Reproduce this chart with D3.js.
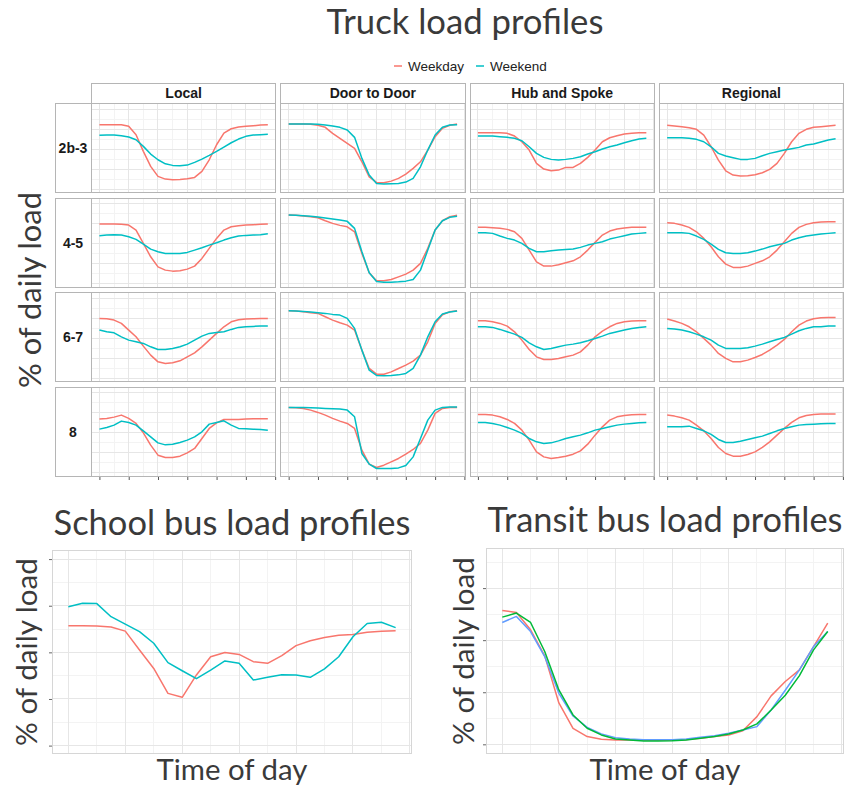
<!DOCTYPE html>
<html>
<head>
<meta charset="utf-8">
<script src="https://cdn.jsdelivr.net/npm/d3@7/dist/d3.min.js"></script>
<style>
  body { margin: 0; background: #fff; }
</style>
</head>
<body>
<svg id="chart" width="845" height="787"></svg>
<script>
// ---- data ----
const hours = [0,1,2,3,4,5,6,7,8,9,10,11,12,13,14,15,16,17,18,19,20,21,22,23];
const hourTicks = [0,4,8,12,16,20,24];
const hourMinor = [2,6,10,14,18,22];
const truckUses = ['Local', 'Door to Door', 'Hub and Spoke', 'Regional'];
const truckSizes = ['2b-3', '4-5', '6-7', '8'];
const dayTypes = ['Weekday', 'Weekend'];

// % of daily load per hour, one array per use (Local, Door to Door, Hub and Spoke, Regional)
const weekday2b3 = [
  [6.43,6.43,6.43,6.43,6.27,5.43,3.77,2.27,1.27,1.00,0.93,0.97,1.03,1.17,1.77,2.93,4.43,5.60,6.03,6.20,6.27,6.33,6.40,6.43],
  [6.50,6.50,6.50,6.47,6.37,6.17,5.57,5.07,4.57,4.07,2.73,1.23,0.67,0.63,0.80,1.07,1.50,2.07,2.73,3.90,5.23,6.07,6.37,6.50],
  [5.63,5.63,5.63,5.63,5.57,5.30,4.73,3.90,2.57,2.00,1.83,1.90,2.17,2.17,2.57,3.17,3.90,4.73,5.13,5.33,5.50,5.57,5.63,5.63],
  [6.37,6.30,6.23,6.13,5.97,5.40,4.23,2.90,1.83,1.40,1.30,1.33,1.43,1.63,1.97,2.57,3.57,4.73,5.57,5.97,6.17,6.23,6.30,6.37]
];
const weekend2b3 = [
  [5.37,5.40,5.40,5.33,5.20,4.93,4.27,3.50,2.93,2.53,2.37,2.33,2.40,2.67,3.00,3.37,3.77,4.20,4.63,5.00,5.27,5.40,5.43,5.47],
  [6.50,6.50,6.50,6.50,6.47,6.40,6.30,6.17,5.90,5.17,3.07,1.40,0.57,0.50,0.53,0.57,0.70,1.07,2.23,3.90,5.40,6.17,6.40,6.43],
  [5.30,5.30,5.30,5.23,5.17,5.07,4.83,4.23,3.57,3.17,2.97,2.90,2.97,3.07,3.23,3.50,3.73,4.00,4.23,4.40,4.63,4.83,5.00,5.07],
  [5.13,5.13,5.13,5.07,4.97,4.73,4.23,3.57,3.30,3.13,2.97,2.97,3.07,3.33,3.57,3.73,3.90,4.03,4.17,4.40,4.50,4.70,4.90,5.03]
];
const weekday45 = [
  [5.96,5.96,5.96,5.93,5.86,5.36,4.03,2.69,1.69,1.36,1.26,1.29,1.46,1.76,2.53,3.53,4.53,5.36,5.69,5.79,5.86,5.89,5.93,5.96],
  [6.86,6.83,6.76,6.69,6.59,6.29,6.03,5.83,5.69,5.19,3.03,1.09,0.29,0.29,0.43,0.69,0.96,1.36,2.03,3.53,5.36,6.29,6.69,6.83],
  [5.63,5.63,5.59,5.53,5.43,5.19,4.53,3.36,2.19,1.76,1.76,1.89,2.09,2.29,2.69,3.36,4.13,4.86,5.26,5.46,5.56,5.63,5.63,5.63],
  [6.09,6.03,5.86,5.63,5.19,4.53,3.69,2.69,1.96,1.63,1.63,1.76,2.03,2.29,2.69,3.36,4.19,5.03,5.63,5.93,6.09,6.16,6.19,6.19]
];
const weekend45 = [
  [4.79,4.86,4.89,4.86,4.69,4.43,3.96,3.46,3.19,3.03,3.03,3.03,3.13,3.36,3.59,3.86,4.09,4.36,4.59,4.76,4.83,4.86,4.89,4.99],
  [6.86,6.83,6.79,6.73,6.66,6.56,6.46,6.36,6.23,5.53,3.19,1.09,0.23,0.16,0.16,0.19,0.26,0.43,1.36,3.36,5.36,6.29,6.63,6.73],
  [5.09,5.09,5.03,4.76,4.53,4.36,4.03,3.53,3.19,3.19,3.29,3.36,3.43,3.46,3.63,3.86,4.03,4.19,4.46,4.63,4.79,4.96,5.03,5.09],
  [5.09,5.09,5.09,5.03,4.76,4.43,3.96,3.43,3.09,3.03,3.03,3.09,3.26,3.46,3.69,3.86,4.03,4.36,4.59,4.76,4.86,4.96,5.03,5.09]
];
const weekday67 = [
  [5.99,5.95,5.82,5.49,4.82,4.15,3.22,2.32,1.65,1.49,1.55,1.75,2.15,2.55,3.15,3.82,4.49,5.15,5.65,5.85,5.92,5.95,5.99,5.99],
  [6.75,6.72,6.65,6.55,6.49,6.15,5.82,5.55,5.32,4.82,2.82,0.99,0.42,0.42,0.65,0.99,1.32,1.72,2.32,3.65,5.49,6.35,6.65,6.75],
  [5.75,5.75,5.65,5.49,5.22,4.65,3.82,2.89,2.15,1.89,1.89,1.99,2.15,2.32,2.65,3.32,4.15,4.72,5.15,5.49,5.65,5.72,5.75,5.75],
  [5.92,5.72,5.49,5.15,4.65,3.99,3.32,2.49,1.99,1.65,1.65,1.82,2.09,2.39,2.82,3.32,3.89,4.65,5.32,5.72,5.95,6.05,6.09,6.09]
];
const weekend67 = [
  [4.82,4.65,4.55,4.15,3.82,3.65,3.49,3.15,2.89,2.89,2.99,3.15,3.42,3.82,4.22,4.49,4.59,4.65,4.89,5.09,5.15,5.19,5.22,5.22],
  [6.75,6.72,6.69,6.62,6.55,6.49,6.39,6.32,5.99,4.99,2.82,0.82,0.29,0.25,0.29,0.35,0.49,0.99,2.32,4.15,5.65,6.42,6.62,6.72],
  [5.15,5.15,5.09,4.89,4.65,4.42,4.09,3.55,3.15,2.89,2.99,3.15,3.32,3.42,3.55,3.75,3.99,4.22,4.49,4.65,4.82,4.99,5.09,5.15],
  [4.99,4.92,4.82,4.65,4.42,4.15,3.82,3.32,2.99,2.99,2.99,3.05,3.22,3.42,3.65,3.89,4.09,4.42,4.75,4.99,5.15,5.15,5.22,5.22]
];
const weekday8 = [
  [5.38,5.45,5.58,5.78,5.45,4.95,4.01,2.78,1.78,1.55,1.55,1.68,2.01,2.45,3.45,4.45,5.01,5.35,5.35,5.35,5.38,5.41,5.41,5.41],
  [6.55,6.51,6.45,6.28,6.05,5.78,5.45,5.18,4.95,4.45,2.28,0.88,0.55,0.78,1.11,1.45,1.88,2.35,2.95,4.28,5.95,6.45,6.55,6.55],
  [5.85,5.85,5.78,5.61,5.35,4.95,4.28,3.28,2.11,1.61,1.45,1.55,1.68,1.88,2.21,2.88,3.78,4.61,5.28,5.61,5.75,5.81,5.85,5.85],
  [5.78,5.68,5.51,5.28,4.78,4.21,3.45,2.55,1.95,1.68,1.68,1.85,2.11,2.55,3.11,3.78,4.45,5.05,5.51,5.75,5.85,5.88,5.88,5.88]
];
const weekend8 = [
  [4.38,4.55,4.78,5.18,5.05,4.78,4.21,3.61,3.01,2.81,2.88,3.05,3.28,3.61,4.11,4.88,5.05,5.21,4.78,4.45,4.41,4.38,4.35,4.28],
  [6.55,6.55,6.55,6.51,6.48,6.45,6.41,6.38,6.28,5.61,1.95,0.88,0.45,0.45,0.45,0.51,0.75,1.61,3.45,5.28,6.28,6.55,6.58,6.58],
  [5.05,5.05,4.95,4.78,4.55,4.28,3.95,3.45,3.11,2.95,3.01,3.21,3.45,3.61,3.78,4.01,4.28,4.45,4.61,4.78,4.88,4.95,5.01,5.05],
  [4.61,4.61,4.61,4.68,4.45,4.21,3.85,3.35,3.05,3.05,3.18,3.35,3.51,3.68,3.95,4.21,4.45,4.61,4.78,4.85,4.88,4.91,4.95,4.95]
];
const truckWeekday = [weekday2b3, weekday45, weekday67, weekday8];
const truckWeekend = [weekend2b3, weekend45, weekend67, weekend8];
const truckTicks = [0,2,4,6,8];
const truckMinor = [1,3,5,7];

const schoolWeekday = [5.14,5.14,5.13,5.09,4.91,4.10,3.31,2.24,2.07,3.03,3.81,3.99,3.91,3.60,3.53,3.86,4.29,4.50,4.64,4.73,4.77,4.86,4.91,4.93];
const schoolWeekend = [5.96,6.11,6.09,5.53,5.21,4.89,4.39,3.56,3.21,2.87,3.24,3.63,3.53,2.81,2.93,3.04,3.03,2.93,3.29,3.81,4.67,5.24,5.29,5.06];
const schoolTicks = [0,2,4,6,8];
const schoolMinor = [1,3,5,7];

const transitA = [12.85,12.66,11.00,8.49,3.97,1.54,0.74,0.48,0.42,0.42,0.38,0.38,0.38,0.45,0.58,0.74,0.90,1.31,2.66,4.65,6.03,7.15,9.39,11.63];
const transitB = [12.21,12.60,11.70,8.91,5.22,2.82,1.54,0.90,0.51,0.42,0.32,0.32,0.35,0.42,0.58,0.74,0.99,1.38,1.96,3.30,4.71,6.60,9.07,10.83];
const transitC = [11.70,12.28,10.83,8.43,4.90,2.72,1.63,1.00,0.64,0.51,0.45,0.45,0.45,0.51,0.67,0.83,1.06,1.38,1.70,3.30,5.19,7.15,9.39,10.83];
const transitTicks = [0,5,10,15];
const transitMinor = [2.5,7.5,12.5,17.5];

// ---- styling ----
const COLORS = {
  weekday: '#F8766D',
  weekend: '#00BFC4',
  transit: ['#F8766D', '#619CFF', '#00BA38'],
  border: '#b5b5b5',
  gridMajor: '#e6e6e6',
  gridMinor: '#f3f3f3',
  text: '#3a3a3a',
  strip: '#1a1a1a'
};
const TITLE_FONT = 'Lato, "Open Sans", sans-serif';
const STRIP_FONT = '"Liberation Sans", Arial, sans-serif';
const X_DOMAIN = [-1.15, 24.15];

const svg = d3.select('#chart');
svg.append('rect').attr('width', 845).attr('height', 787).attr('fill', '#fff');

// scale a text element's font so that it spans the wanted width
function fitWidth(sel, target) {
  const w = sel.node().getComputedTextLength();
  const fs = parseFloat(sel.attr('font-size'));
  sel.attr('font-size', (fs * target / w).toFixed(2));
  return sel;
}

function drawPanelFrame(g, w, h, xScale, yScale, yMajor, yMinor, borderColor) {
  g.append('rect').attr('width', w).attr('height', h).attr('fill', '#fff');
  const grid = g.append('g').attr('shape-rendering', 'crispEdges');
  grid.selectAll('line.vminor').data(hourMinor).join('line')
    .attr('x1', d => xScale(d)).attr('x2', d => xScale(d))
    .attr('y1', 0).attr('y2', h)
    .attr('stroke', COLORS.gridMinor);
  grid.selectAll('line.hminor').data(yMinor).join('line')
    .attr('x1', 0).attr('x2', w)
    .attr('y1', d => yScale(d)).attr('y2', d => yScale(d))
    .attr('stroke', COLORS.gridMinor);
  grid.selectAll('line.vmajor').data(hourTicks.filter(d => xScale(d) < w)).join('line')
    .attr('x1', d => xScale(d)).attr('x2', d => xScale(d))
    .attr('y1', 0).attr('y2', h)
    .attr('stroke', COLORS.gridMajor);
  grid.selectAll('line.hmajor').data(yMajor).join('line')
    .attr('x1', 0).attr('x2', w)
    .attr('y1', d => yScale(d)).attr('y2', d => yScale(d))
    .attr('stroke', COLORS.gridMajor);
  // border is drawn last, over the lines
  return () => g.append('rect')
    .attr('x', 0.5).attr('y', 0.5)
    .attr('width', w - 1).attr('height', h - 1)
    .attr('fill', 'none')
    .attr('stroke', borderColor)
    .attr('stroke-width', 1)
    .attr('shape-rendering', 'crispEdges');
}

function drawSeries(g, values, xScale, yScale, color, width) {
  const line = d3.line()
    .x((d, i) => xScale(hours[i]))
    .y(d => yScale(d));
  g.append('path')
    .datum(values)
    .attr('d', line)
    .attr('fill', 'none')
    .attr('stroke', color)
    .attr('stroke-width', width)
    .attr('stroke-linejoin', 'round');
}

// ---- truck facet grid ----
const grid = { left: 91, right: 844, top: 103, bottom: 477, colGap: 4, rowGap: 4.5 };
const colW = (grid.right - grid.left - grid.colGap * 3) / 4;
const rowH = (grid.bottom - grid.top - grid.rowGap * 3) / 4;
const truckX = d3.scaleLinear().domain(X_DOMAIN).range([0, colW]);
const truckY = d3.scaleLinear().domain([-0.4, 8.6]).range([rowH, 0]);

svg.append('text')
  .attr('x', 465).attr('y', 34)
  .attr('text-anchor', 'middle')
  .attr('font-family', TITLE_FONT)
  .attr('font-size', 28)
  .attr('fill', COLORS.text)
  .text('Truck load profiles')
  .call(sel => fitWidth(sel, 277));

// legend
const legend = svg.append('g').attr('transform', 'translate(394, 66)');
const legendItems = [
  { label: dayTypes[0], color: COLORS.weekday, x: 0 },
  { label: dayTypes[1], color: COLORS.weekend, x: 82 }
];
legendItems.forEach(item => {
  legend.append('line')
    .attr('x1', item.x).attr('x2', item.x + 8)
    .attr('y1', 0).attr('y2', 0)
    .attr('stroke', item.color).attr('stroke-width', 1.5);
  legend.append('text')
    .attr('x', item.x + 14).attr('y', 0).attr('dy', '0.35em')
    .attr('font-family', STRIP_FONT)
    .attr('font-size', 13.5)
    .attr('fill', '#222')
    .text(item.label);
});

// column strips
truckUses.forEach((use, c) => {
  const x = grid.left + c * (colW + grid.colGap);
  const strip = svg.append('g').attr('transform', `translate(${x}, 83)`);
  strip.append('rect')
    .attr('x', 0.5).attr('y', 0.5).attr('width', colW - 1).attr('height', 19.5)
    .attr('fill', '#fff').attr('stroke', COLORS.border)
    .attr('shape-rendering', 'crispEdges');
  strip.append('text')
    .attr('x', colW / 2).attr('y', 10.5).attr('dy', '0.35em')
    .attr('text-anchor', 'middle')
    .attr('font-family', STRIP_FONT).attr('font-weight', 'bold')
    .attr('font-size', 14).attr('fill', COLORS.strip)
    .text(use);
});

// row strips + panels
truckSizes.forEach((size, r) => {
  const y = grid.top + r * (rowH + grid.rowGap);
  const strip = svg.append('g').attr('transform', `translate(55, ${y})`);
  strip.append('rect')
    .attr('x', 0.5).attr('y', 0.5).attr('width', 36).attr('height', rowH - 1)
    .attr('fill', '#fff').attr('stroke', COLORS.border)
    .attr('shape-rendering', 'crispEdges');
  strip.append('text')
    .attr('x', 18).attr('y', rowH / 2).attr('dy', '0.35em')
    .attr('text-anchor', 'middle')
    .attr('font-family', STRIP_FONT).attr('font-weight', 'bold')
    .attr('font-size', 14).attr('fill', COLORS.strip)
    .text(size);

  truckUses.forEach((use, c) => {
    const x = grid.left + c * (colW + grid.colGap);
    const g = svg.append('g').attr('transform', `translate(${x}, ${y})`);
    const finish = drawPanelFrame(g, colW, rowH, truckX, truckY, truckTicks, truckMinor, COLORS.border);
    drawSeries(g, truckWeekday[r][c], truckX, truckY, COLORS.weekday, 1.5);
    drawSeries(g, truckWeekend[r][c], truckX, truckY, COLORS.weekend, 1.5);
    finish();
    if (r === truckSizes.length - 1) {
      const axis = g.append('g')
        .attr('transform', `translate(0, ${rowH})`)
        .call(d3.axisBottom(truckX).tickValues(hourTicks).tickSize(3).tickFormat(''));
      axis.select('.domain').remove();
      axis.selectAll('line').attr('stroke', '#555');
    }
  });
});

svg.append('text')
  .attr('transform', `translate(30, ${(grid.top + grid.bottom) / 2}) rotate(-90)`)
  .attr('dy', '0.35em')
  .attr('text-anchor', 'middle')
  .attr('font-family', TITLE_FONT)
  .attr('font-size', 26)
  .attr('fill', COLORS.text)
  .text('% of daily load')
  .call(sel => fitWidth(sel, 196));

// ---- bottom panels ----
function drawBusPanel(opts) {
  const { left, right, top, bottom, yDomain, yMajor, yMinor, series, title, titleY, titleW, ylabelX } = opts;
  const w = right - left, h = bottom - top;
  const xs = d3.scaleLinear().domain(X_DOMAIN).range([0, w]);
  const ys = d3.scaleLinear().domain(yDomain).range([h, 0]);
  const g = svg.append('g').attr('transform', `translate(${left}, ${top})`);
  const finish = drawPanelFrame(g, w, h, xs, ys, yMajor, yMinor, '#d6d6d6');
  series.forEach(s => drawSeries(g, s.values, xs, ys, s.color, 1.5));
  finish();
  const axis = g.append('g').call(d3.axisLeft(ys).tickValues(yMajor).tickSize(3).tickFormat(''));
  axis.select('.domain').remove();
  axis.selectAll('line').attr('stroke', '#666');

  svg.append('text')
    .attr('x', (left + right) / 2).attr('y', titleY)
    .attr('text-anchor', 'middle')
    .attr('font-family', TITLE_FONT).attr('font-size', 27)
    .attr('fill', COLORS.text)
    .text(title)
    .call(sel => fitWidth(sel, titleW));
  svg.append('text')
    .attr('x', (left + right) / 2).attr('y', 780)
    .attr('text-anchor', 'middle')
    .attr('font-family', TITLE_FONT).attr('font-size', 26)
    .attr('fill', COLORS.text)
    .text('Time of day')
    .call(sel => fitWidth(sel, 151));
  svg.append('text')
    .attr('transform', `translate(${ylabelX}, ${(top + bottom) / 2}) rotate(-90)`)
    .attr('dy', '0.35em')
    .attr('text-anchor', 'middle')
    .attr('font-family', TITLE_FONT).attr('font-size', 26)
    .attr('fill', COLORS.text)
    .text('% of daily load')
    .call(sel => fitWidth(sel, 188));
}

drawBusPanel({
  left: 52, right: 412, top: 550, bottom: 754,
  yDomain: [-0.36, 8.39], yMajor: schoolTicks, yMinor: schoolMinor,
  series: [
    { values: schoolWeekday, color: COLORS.weekday },
    { values: schoolWeekend, color: COLORS.weekend }
  ],
  title: 'School bus load profiles', titleY: 535, titleW: 357, ylabelX: 27
});

drawBusPanel({
  left: 486, right: 844, top: 548, bottom: 754,
  yDomain: [-0.93, 18.85], yMajor: transitTicks, yMinor: transitMinor,
  series: [
    { values: transitA, color: COLORS.transit[0] },
    { values: transitC, color: COLORS.transit[1] },
    { values: transitB, color: COLORS.transit[2] }
  ],
  title: 'Transit bus load profiles', titleY: 532, titleW: 355, ylabelX: 464
});
</script>
</body>
</html>
